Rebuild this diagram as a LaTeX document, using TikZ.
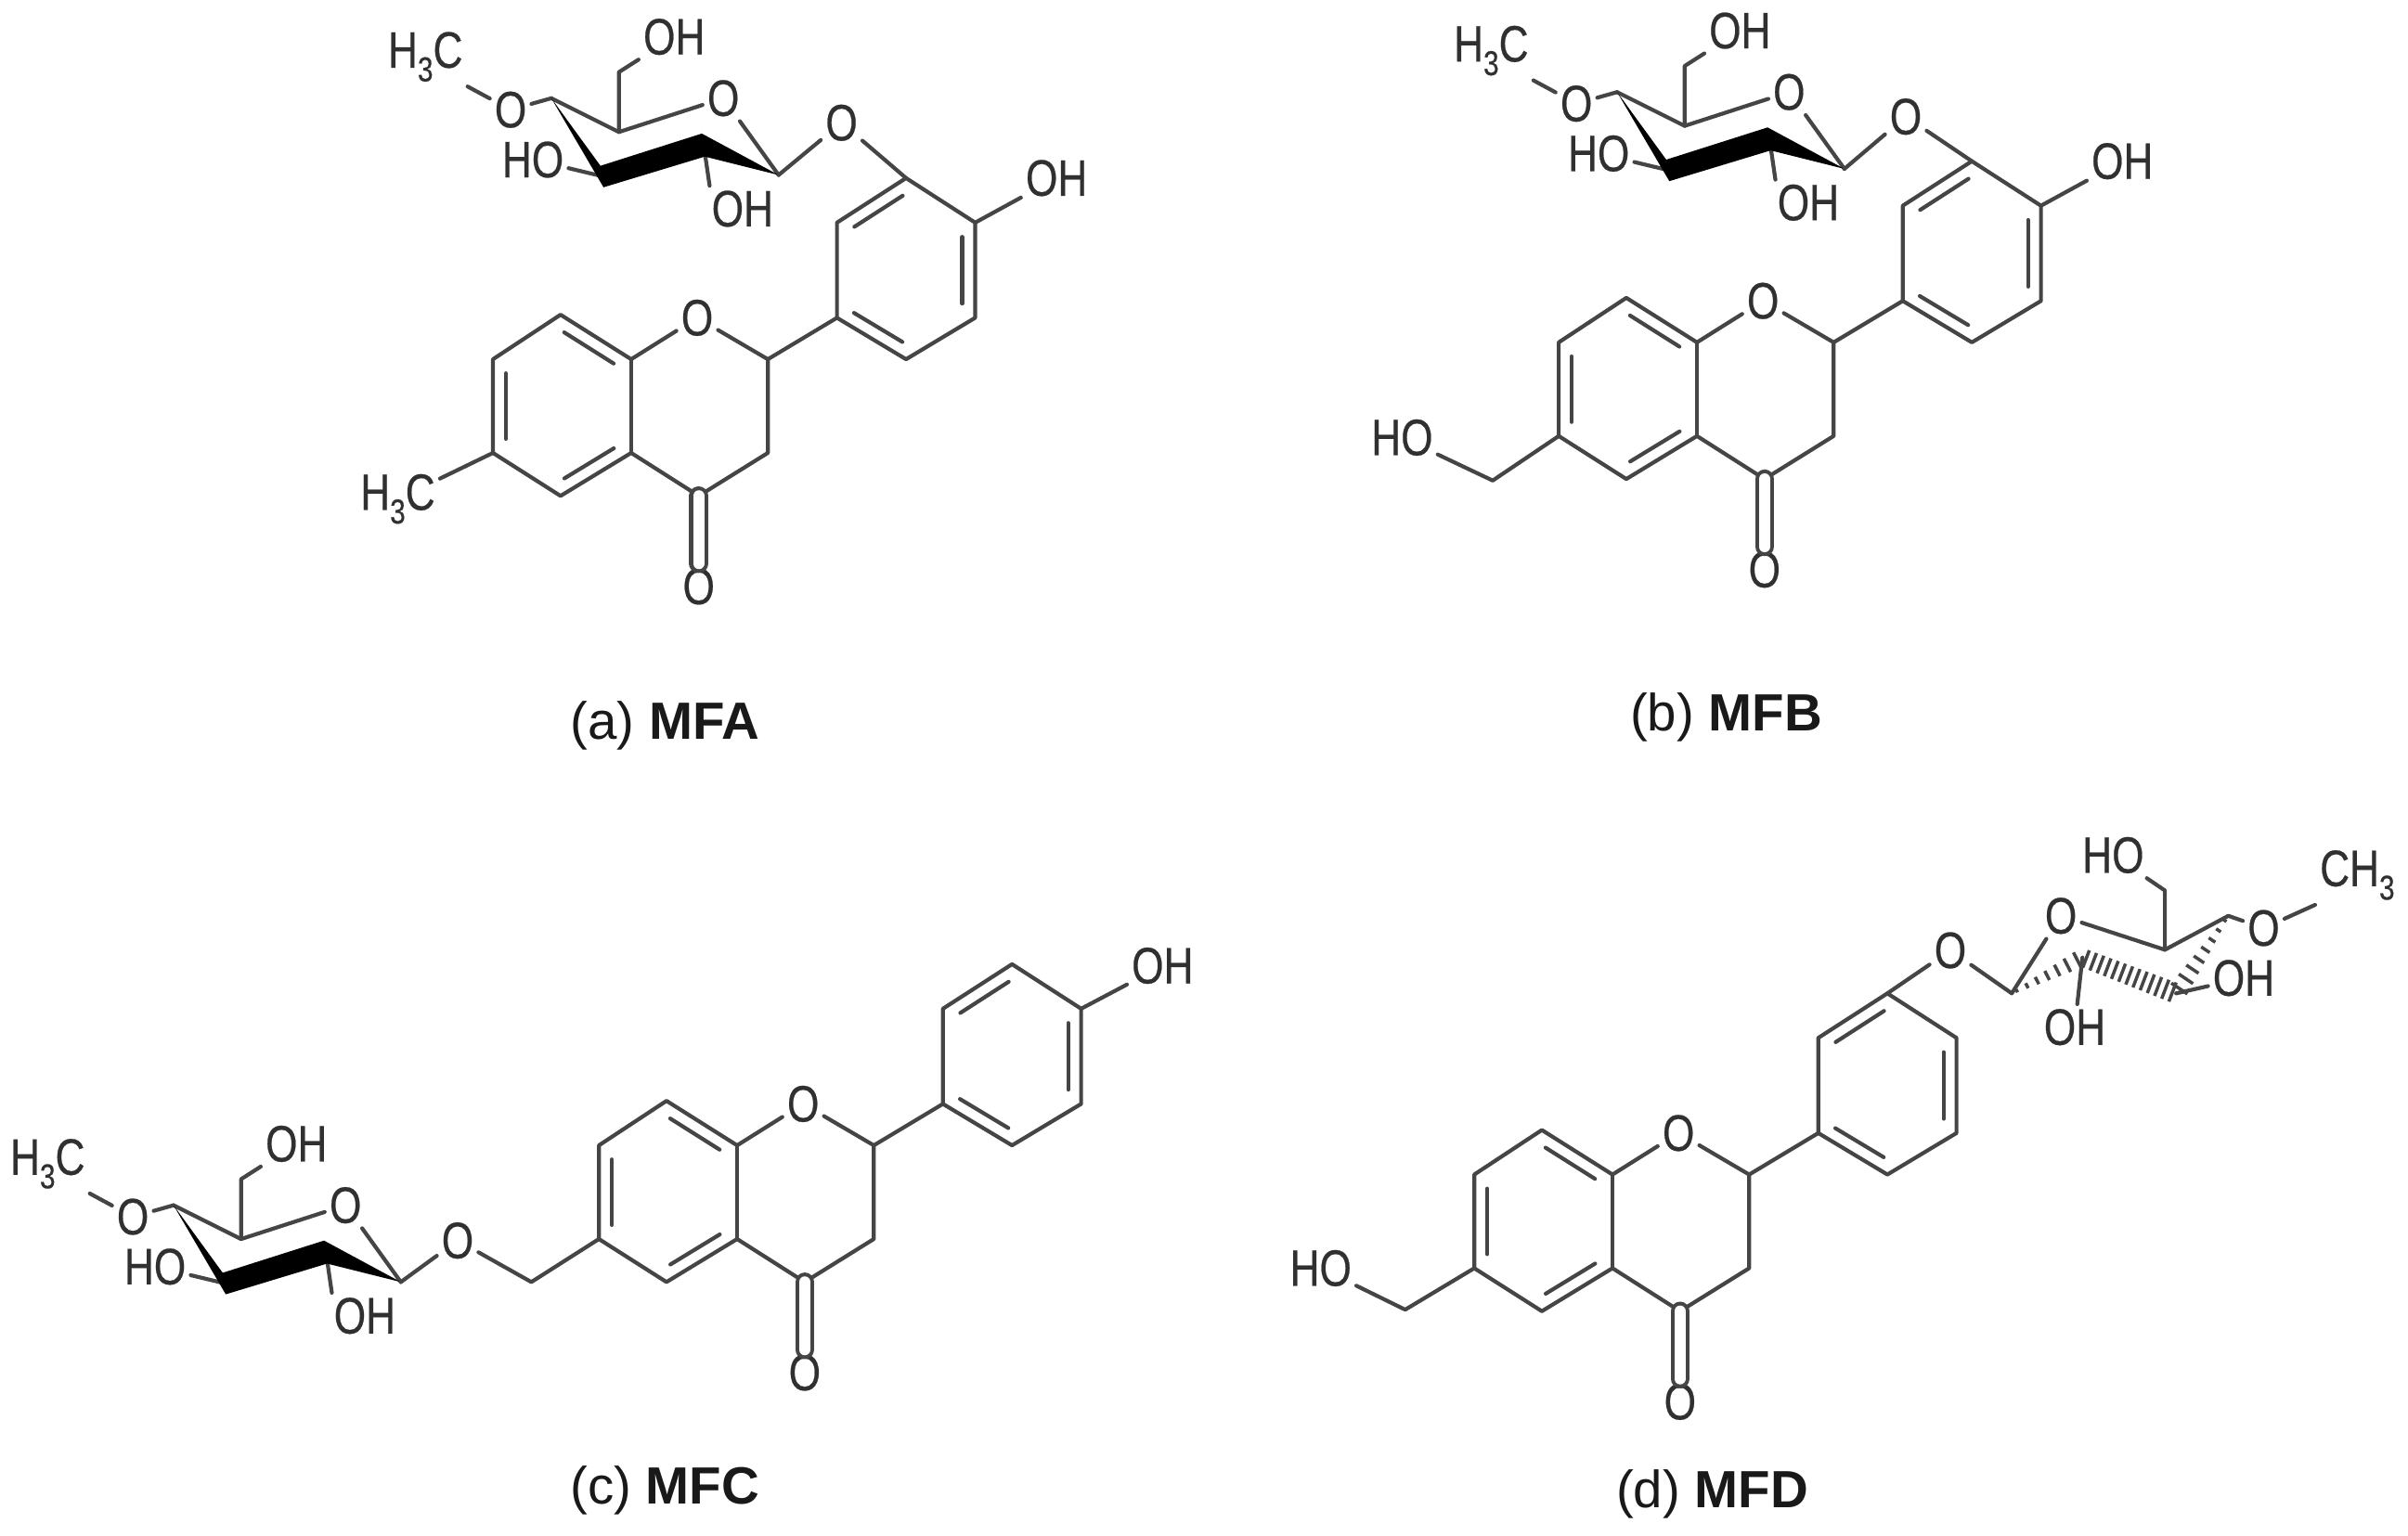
\documentclass[tikz,border=0pt]{standalone}
\usepackage{fontspec}
\setmainfont{Liberation Sans}
\newfontfamily\atomfont[FakeStretch=0.8,FakeBold=0.4]{Liberation Sans}
\usetikzlibrary{calc}
\definecolor{bondcol}{HTML}{454545}
\definecolor{atomcol}{HTML}{303030}
\newcommand{\lowthree}{\raisebox{-0.5ex}{\fontsize{6.4}{6}\selectfont 3}}
\newcommand{\innerbond}[2]{\draw[bond] ($(#1)!0.15!(#2)!2.4pt!-90:(#2)$) -- ($(#2)!0.15!(#1)!2.4pt!90:(#1)$);}
\newcommand{\hashbond}[5]{
	\foreach \hi in {0,...,#5}{
		\pgfmathsetmacro\hpos{(\hi+0.5)/(#5+1)}
		\pgfmathsetmacro\hwid{#3+(#4-#3)*\hpos}
		\draw[hashtick] ($(#1)!\hpos!(#2)!\hwid pt!90:(#2)$) -- ($(#1)!\hpos!(#2)!\hwid pt!-90:(#2)$);
	}
}
\tikzset{
	bond/.style={draw=bondcol, line width=0.72pt, line join=round, line cap=round},
	hashtick/.style={draw=bondcol, line width=0.6pt},
	atom/.style={text=atomcol, inner sep=0.7pt, font=\atomfont\fontsize{9.5}{9.5}\selectfont},
	caption/.style={text=black!90, inner sep=0, font=\fontsize{9.7}{11}\selectfont},
	flavanone/.pic={
		\node[atom] (-O1) at (0,0) {O};
		\coordinate (-C2) at (46,27);
		\coordinate (-C3) at (46,88);
		\coordinate (-C4) at (1,116);
		\node[atom] (-O4) at (1,175) {O};
		\coordinate (-C4a) at (-43,88);
		\coordinate (-C5) at (-89,116);
		\coordinate (-C6) at (-133,88);
		\coordinate (-C7) at (-133,27);
		\coordinate (-C8) at (-89,-2);
		\coordinate (-C8a) at (-43,27);
		\coordinate (-P1) at (91,0);
		\coordinate (-P2) at (91,-62);
		\coordinate (-P3) at (136,-91);
		\coordinate (-P4) at (181,-62);
		\coordinate (-P5) at (181,0);
		\coordinate (-P6) at (136,27);
		\draw[bond] (-O1) -- (-C8a) -- (-C8) -- (-C7) -- (-C6) -- (-C5) -- (-C4a) -- (-C4) -- (-C3) -- (-C2) -- (-O1);
		\draw[bond] (-C8a) -- (-C4a);
		\draw[bond] (-C2) -- (-P1);
		\draw[bond] (-P1) -- (-P2) -- (-P3) -- (-P4) -- (-P5) -- (-P6) -- cycle;
		\draw[bond, double=white, double distance=2.1pt] (-C4) -- (-O4);
		\innerbond{-C8}{-C8a}
		\innerbond{-C4a}{-C5}
		\innerbond{-C6}{-C7}
		\innerbond{-P2}{-P3}
		\innerbond{-P4}{-P5}
		\innerbond{-P6}{-P1}
	},
	glucoside/.pic={
		\coordinate (-C1) at (0,0);
		\node[atom] (-rO) at (-36,-50) {O};
		\coordinate (-C5) at (-104,-28);
		\coordinate (-CH) at (-104,-67);
		\node[atom] (-OHa) at (-68,-90) {OH};
		\coordinate (-C4) at (-148,-50);
		\node[atom] (-OMe) at (-174.5,-42.5) {O};
		\node[atom] (-Me) at (-230,-77) {H\lowthree C};
		\coordinate (-C3) at (-114,1);
		\node[atom] (-OHb) at (-160,-10) {HO};
		\coordinate (-C2) at (-49,-21);
		\node[atom] (-OHc) at (-23.5,22) {OH};
		\coordinate (-C3t) at (-116,-6);
		\coordinate (-C3b) at (-114,8);
		\coordinate (-C2t) at (-50,-27);
		\coordinate (-C2b) at (-48,-12);
		\draw[bond] (-C4) -- (-C5) -- (-rO) -- (-C1);
		\draw[bond] (-C5) -- (-CH) -- (-OHa);
		\draw[bond] (-C4) -- (-OMe);
		\draw[bond] (-OMe) -- (-Me.south east);
		\draw[bond] (-C3) -- (-OHb);
		\draw[bond] (-C2) -- (-OHc.145);
		\fill[black] (-C4) -- (-C3t) -- (-C2t) -- (-C1) -- (-C2b) -- (-C3b) -- cycle;
	}
}
\begin{document}
\begin{tikzpicture}[x=0.01cm, y=-0.01cm]
	\useasboundingbox (0,0) rectangle (1568,1000.4);

	\pic (a) at (454,207) {flavanone};
	\pic (aS) at (507,114) {glucoside};
	\node[atom] (aO) at (548,80) {O};
	\node[atom] (aOH) at (688,116) {OH};
	\node[atom] (aMe) at (259,325) {H\lowthree C};
	\draw[bond] (aS-C1) -- (aO) -- (a-P3);
	\draw[bond] (a-P4) -- (aOH);
	\draw[bond] (a-C6) -- (aMe);
	\node[caption] (capa) at (433,472.5) {(a) \textbf{MFA}};

	\pic (b) at (1148,196) {flavanone};
	\pic (bS) at (1201,110) {glucoside};
	\node[atom] (bO) at (1241,76) {O};
	\node[atom] (bOH) at (1382,105) {OH};
	\coordinate (bCH) at (972,313);
	\node[atom] (bHO) at (913,285) {HO};
	\draw[bond] (bS-C1) -- (bO) -- (b-P3);
	\draw[bond] (b-P4) -- (bOH);
	\draw[bond] (b-C6) -- (bCH) -- (bHO);
	\node[caption] (capb) at (1124,467) {(b) \textbf{MFB}};

	\pic (c) at (523,719) {flavanone};
	\pic (cS) at (261,835) {glucoside};
	\node[atom] (cO) at (298,808) {O};
	\node[atom] (cOH) at (757,629) {OH};
	\coordinate (cCH) at (346,835);
	\draw[bond] (cS-C1) -- (cO) -- (cCH) -- (c-C6);
	\draw[bond] (c-P4) -- (cOH);
	\node[caption] (capc) at (433,971) {(c) \textbf{MFC}};

	\pic (d) at (1093,738) {flavanone};
	\node[atom] (dO) at (1270,619) {O};
	\coordinate (dC1) at (1310,647);
	\node[atom] (drO) at (1342,596.5) {O};
	\coordinate (dC5) at (1409.7,618.6);
	\coordinate (dCH) at (1409.7,580);
	\node[atom] (dHO) at (1376,557) {HO};
	\coordinate (dC4) at (1451,596.5);
	\node[atom] (dOMe) at (1474,604.5) {O};
	\node[atom] (dMe) at (1535,570) {CH\lowthree};
	\coordinate (dC3) at (1417,647);
	\node[atom] (dOHa) at (1461,637) {OH};
	\coordinate (dC2) at (1356,623.7);
	\node[atom] (dOHb) at (1351,669) {OH};
	\coordinate (dHO1) at (915,853);
	\node[atom] (dHO2) at (860,826) {HO};
	\draw[bond] (d-P3) -- (dO) -- (dC1) -- (drO) -- (dC5) -- (dC4) -- (dOMe);
	\draw[bond] (dOMe) -- (dMe.south west);
	\draw[bond] (dC5) -- (dCH) -- (dHO);
	\draw[bond] (dC3) -- (dOHa);
	\draw[bond] (dC2) -- (dOHb);
	\draw[bond] (d-C6) -- (dHO1) -- (dHO2);
	\hashbond{dC1}{dC2}{0.2}{1.7}{6}
	\hashbond{dC2}{dC3}{1.7}{1.9}{12}
	\hashbond{dC3}{dC4}{1.9}{0.2}{7}
	\node[caption] (capd) at (1115,973) {(d) \textbf{MFD}};
\end{tikzpicture}
\end{document}
